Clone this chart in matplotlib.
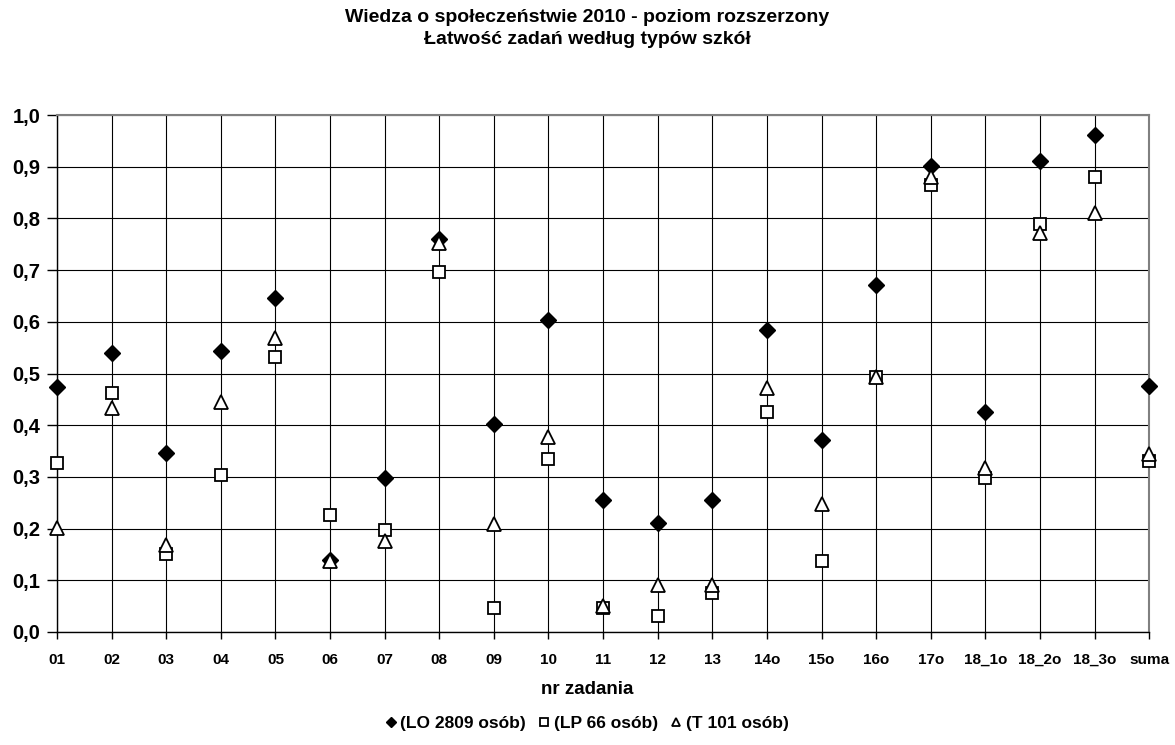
import matplotlib
matplotlib.use("Agg")
import matplotlib.pyplot as plt
from matplotlib.ticker import MultipleLocator, FuncFormatter

plt.rcParams['font.family'] = ['Liberation Sans', 'DejaVu Sans']

categories = ["01", "02", "03", "04", "05", "06", "07", "08", "09", "10", "11", "12", "13",
              "14o", "15o", "16o", "17o", "18_1o", "18_2o", "18_3o", "suma"]
lo = [0.473, 0.539, 0.346, 0.543, 0.646, 0.140, 0.298, 0.760, 0.403, 0.603, 0.256, 0.210,
      0.256, 0.584, 0.372, 0.671, 0.901, 0.425, 0.912, 0.962, 0.476]
lp = [0.327, 0.462, 0.151, 0.303, 0.531, 0.227, 0.197, 0.697, 0.046, 0.334, 0.047, 0.030,
      0.075, 0.425, 0.137, 0.494, 0.864, 0.297, 0.789, 0.880, 0.331]
tt = [0.202, 0.434, 0.168, 0.444, 0.569, 0.137, 0.176, 0.752, 0.208, 0.377, 0.050, 0.090,
      0.090, 0.472, 0.247, 0.493, 0.880, 0.318, 0.772, 0.811, 0.345]
labels = ["(LO 2809 osób)", "(LP 66 osób)", "(T 101 osób)"]

fig = plt.figure(figsize=(11.75, 7.45), dpi=100)
ax = fig.add_axes([0.0485, 0.1517, 0.9295, 0.6939])

x = list(range(len(categories)))
ax.plot(x, lo, linestyle='none', marker='D', markersize=8.5, color='black',
        markeredgecolor='black', label=labels[0], zorder=5, clip_on=False)
ax.plot(x, lp, linestyle='none', marker='s', markersize=9, markerfacecolor='white',
        markeredgecolor='black', markeredgewidth=1.3, label=labels[1], zorder=4, clip_on=False)
ax.plot(x, tt, linestyle='none', marker='^', markersize=9.5, markerfacecolor='white',
        markeredgecolor='black', markeredgewidth=1.3, label=labels[2], zorder=6, clip_on=False)

ax.set_xlim(0, len(categories) - 1)
ax.set_ylim(0, 1.0)
ax.set_xticks(x)
ax.set_xticklabels(categories, fontsize=11, fontweight='bold')
ax.yaxis.set_major_locator(MultipleLocator(0.1))
ax.yaxis.set_major_formatter(FuncFormatter(lambda v, p: f"{v:.1f}".replace('.', ',')))
ax.tick_params(axis='y', direction='out', length=7, width=1, pad=5, labelsize=14.5)
for t in ax.get_yticklabels():
    t.set_fontweight('bold')
ax.tick_params(axis='x', direction='out', length=5, width=1, pad=10)

ax.grid(True, which='major', color='black', linewidth=0.8)
ax.set_axisbelow(True)
for s in ['top', 'right']:
    ax.spines[s].set_color('#808080')
    ax.spines[s].set_linewidth(1.5)
for s in ['left', 'bottom']:
    ax.spines[s].set_color('black')
    ax.spines[s].set_linewidth(1)

fig.text(0.5, 1 - 690 / 745, "nr zadania", ha='center', va='center',
         fontsize=13.5, fontweight='bold')

fig.text(0.5, 1 - 18 / 745, "Wiedza o społeczeństwie 2010 - poziom rozszerzony",
         ha='center', va='center', fontsize=14, fontweight='bold')
fig.text(0.5, 1 - 40 / 745, "Łatwość zadań według typów szkół",
         ha='center', va='center', fontsize=14, fontweight='bold')

leg = fig.legend(loc='center', bbox_to_anchor=(0.5, 1 - 723 / 745), ncol=3, frameon=False,
                 prop={'size': 12.5, 'weight': 'bold'}, handlelength=0.5,
                 handletextpad=0.3, columnspacing=0.8, markerscale=0.6)

fig.savefig("out.png", dpi=100)
